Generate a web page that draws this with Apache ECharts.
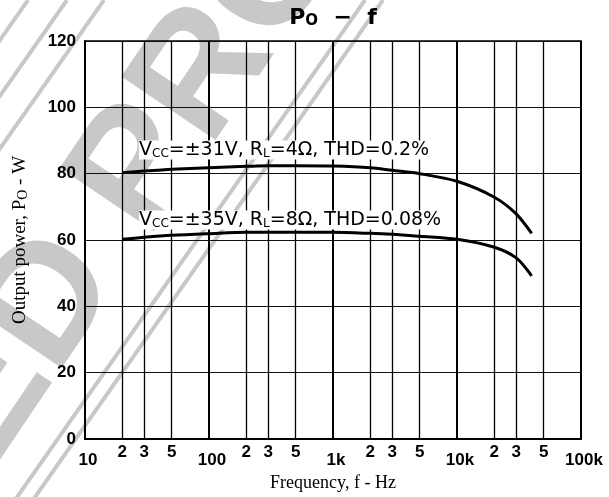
<!DOCTYPE html>
<html>
<head>
<meta charset="utf-8">
<script src="https://cdn.jsdelivr.net/npm/echarts@6/dist/echarts.min.js"></script>
<style>
html, body { margin: 0; padding: 0; background: #fff; }
#chart { width: 609px; height: 497px; }
</style>
</head>
<body>
<div id="chart"></div>
<script>
// values (Po - f)
const freqHz = [20, 30, 50, 100, 200, 300, 500, 1000, 2000, 3000, 5000, 10000, 20000, 30000, 40000];
const po31V4ohm = [80.3, 80.8, 81.3, 81.8, 82.2, 82.4, 82.4, 82.3, 81.8, 81.0, 80.0, 77.7, 72.9, 67.9, 62.0];
const po35V8ohm = [60.2, 60.8, 61.4, 61.9, 62.3, 62.3, 62.3, 62.3, 62.0, 61.7, 61.1, 60.2, 57.8, 54.6, 49.2];

const decadeTicks = [10, 100, 1000, 10000, 100000];
const decadeLabels = ["10", "100", "1k", "10k", "100k"];
const subTicks = [20, 30, 50, 200, 300, 500, 2000, 3000, 5000, 20000, 30000, 50000];
const subLabels = ["2", "3", "5", "2", "3", "5", "2", "3", "5", "2", "3", "5"];

const curve1Label = "V{s|CC}=±31V, R{s|L}=4Ω, THD=0.2%";
const curve2Label = "V{s|CC}=±35V, R{s|L}=8Ω, THD=0.08%";

var chart = echarts.init(document.getElementById("chart"));

var labelFont = "'Liberation Sans Narrow', 'Liberation Sans', sans-serif";

function pickLabel(ticks, labels) {
  return function (v) {
    for (var i = 0; i < ticks.length; i++) {
      if (Math.abs(v / ticks[i] - 1) < 1e-6) return labels[i];
    }
    return "";
  };
}

// watermark lines (decoration only)
var wmLines = [];
[28, 67, 104, 365, 383].forEach(function (x0) {
  wmLines.push({
    type: "line",
    z: -5,
    silent: true,
    shape: { x1: x0, y1: 0, x2: x0 - 0.7 * 520, y2: 520 },
    style: { stroke: "#c8c8c8", lineWidth: 4 },
  });
});

var wmAngle = 56 * Math.PI / 180;
var wmSize = 165;
var wmX = 110, wmY = 215;

var option = {
  backgroundColor: "#fff",
  animation: false,
  grid: {
    left: 85,
    right: 28,
    top: 41,
    bottom: 58,
    show: true,
    borderColor: "#000",
    borderWidth: 1.5,
  },
  xAxis: [
    {
      type: "log",
      logBase: 10,
      min: 10,
      max: 100000,
      name: "Frequency, f - Hz",
      nameLocation: "middle",
      nameGap: 31,
      nameTextStyle: { fontFamily: "'Liberation Serif', serif", fontSize: 18, color: "#000" },
      axisLine: { show: true, lineStyle: { color: "#000", width: 2 } },
      axisTick: { show: false, customValues: decadeTicks },
      axisLabel: {
        customValues: decadeTicks,
        formatter: pickLabel(decadeTicks, decadeLabels),
        margin: 13,
        color: "#000",
        fontFamily: labelFont,
        fontWeight: "bold",
        fontSize: 17,
        padding: [0, 0, 0, 6],
      },
      splitLine: { show: true, lineStyle: { color: "#000", width: 2 } },
    },
    {
      type: "log",
      logBase: 10,
      min: 10,
      max: 100000,
      position: "bottom",
      axisLine: { show: false },
      axisTick: { show: false, customValues: subTicks },
      axisLabel: {
        customValues: subTicks,
        formatter: pickLabel(subTicks, subLabels),
        margin: 5,
        color: "#000",
        fontFamily: labelFont,
        fontWeight: "bold",
        fontSize: 17,
      },
      splitLine: { show: true, lineStyle: { color: "#000", width: 1.3 } },
    },
  ],
  yAxis: {
    type: "value",
    min: 0,
    max: 120,
    interval: 20,
    name: "Output power, P{s|O} - W",
    nameLocation: "middle",
    nameGap: 55,
    nameRotate: 90,
    nameTextStyle: {
      fontFamily: "'Liberation Serif', serif",
      fontSize: 19,
      color: "#000",
      rich: { s: { fontFamily: "'Liberation Serif', serif", fontSize: 14, color: "#000", verticalAlign: "bottom" } },
    },
    axisLine: { show: true, lineStyle: { color: "#000", width: 2 } },
    axisTick: { show: false },
    axisLabel: {
      margin: 9,
      color: "#000",
      fontFamily: labelFont,
      fontWeight: "bold",
      fontSize: 17,
    },
    splitLine: { show: true, lineStyle: { color: "#111", width: 1 } },
  },
  graphic: wmLines.concat([
    {
      type: "text",
      z: -5,
      silent: true,
      x: wmX,
      y: wmY,
      rotation: wmAngle,
      style: {
        text: "PRODUCT",
        font: "bold " + wmSize + "px 'Liberation Sans', sans-serif",
        fill: "#c8c8c8",
        align: "left",
        verticalAlign: "middle",
      },
    },
    {
      type: "text",
      z: -5,
      silent: true,
      x: wmX - 0.278 * wmSize * Math.cos(wmAngle),
      y: wmY + 0.278 * wmSize * Math.sin(wmAngle),
      rotation: wmAngle,
      style: {
        text: "DISCONTINUED",
        font: "bold " + wmSize + "px 'Liberation Sans', sans-serif",
        fill: "#c8c8c8",
        align: "right",
        verticalAlign: "middle",
      },
    },
    {
      type: "text",
      z: 10,
      x: 333,
      y: 18,
      style: {
        text: "P{o|O}  −  f",
        font: "bold 22px 'DejaVu Sans', sans-serif",
        fill: "#000",
        align: "center",
        verticalAlign: "middle",
        rich: { o: { fontSize: 15, fontWeight: "bold", fontFamily: "'DejaVu Sans', sans-serif", verticalAlign: "bottom" } },
      },
    },
    {
      type: "text",
      z: 5,
      x: 139,
      y: 150,
      style: {
        text: curve1Label,
        font: "19px 'DejaVu Sans', sans-serif",
        fill: "#000",
        align: "left",
        verticalAlign: "middle",
        backgroundColor: "#fff",
        rich: { s: { fontSize: 12, fontFamily: "'DejaVu Sans', sans-serif", verticalAlign: "bottom" } },
      },
    },
    {
      type: "text",
      z: 5,
      x: 139,
      y: 220,
      style: {
        text: curve2Label,
        font: "19px 'DejaVu Sans', sans-serif",
        fill: "#000",
        align: "left",
        verticalAlign: "middle",
        backgroundColor: "#fff",
        rich: { s: { fontSize: 12, fontFamily: "'DejaVu Sans', sans-serif", verticalAlign: "bottom" } },
      },
    },
  ]),
  series: [
    {
      name: "Vcc=±31V, RL=4Ω",
      type: "line",
      xAxisIndex: 0,
      smooth: 0.3,
      showSymbol: false,
      lineStyle: { color: "#000", width: 3 },
      data: freqHz.map(function (f, i) { return [f, po31V4ohm[i]]; }),
    },
    {
      name: "Vcc=±35V, RL=8Ω",
      type: "line",
      xAxisIndex: 0,
      smooth: 0.3,
      showSymbol: false,
      lineStyle: { color: "#000", width: 3 },
      data: freqHz.map(function (f, i) { return [f, po35V8ohm[i]]; }),
    },
  ],
};

chart.setOption(option);
</script>
</body>
</html>
